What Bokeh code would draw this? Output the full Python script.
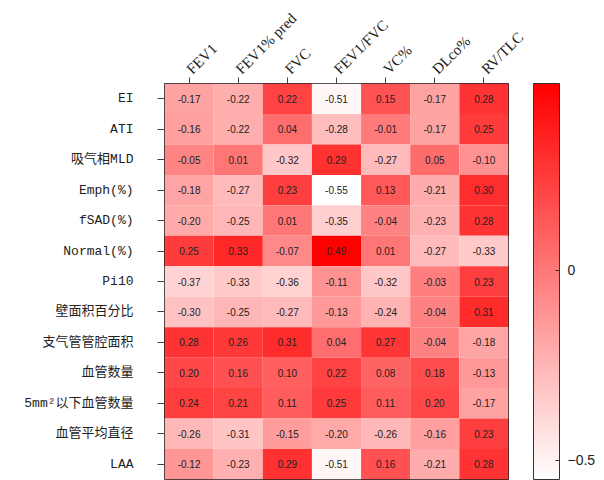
import math
from bokeh.plotting import figure
from bokeh.models import (ColumnDataSource, LinearColorMapper, ColorBar, FixedTicker,
                          FactorRange)
from bokeh.transform import transform
from bokeh.embed import file_html
from bokeh.resources import INLINE

columns = ["FEV1", "FEV1% pred", "FVC", "FEV1/FVC", "VC%", "DLco%", "RV/TLC"]
rows = ["EI", "ATI", "吸气相MLD", "Emph(%)", "fSAD(%)", "Normal(%)", "Pi10",
        "壁面积百分比", "支气管管腔面积", "血管数量", "5mm²以下血管数量", "血管平均直径", "LAA"]

r_EI = [-0.17, -0.22, 0.22, -0.51, 0.15, -0.17, 0.28]
r_ATI = [-0.16, -0.22, 0.04, -0.28, -0.01, -0.17, 0.25]
r_MLD = [-0.05, 0.01, -0.32, 0.29, -0.27, 0.05, -0.10]
r_Emph = [-0.18, -0.27, 0.23, -0.55, 0.13, -0.21, 0.30]
r_fSAD = [-0.20, -0.25, 0.01, -0.35, -0.04, -0.23, 0.28]
r_Normal = [0.25, 0.33, -0.07, 0.49, 0.01, -0.27, -0.33]
r_Pi10 = [-0.37, -0.33, -0.36, -0.11, -0.32, -0.03, 0.23]
r_WA = [-0.30, -0.25, -0.27, -0.13, -0.24, -0.04, 0.31]
r_LA = [0.28, 0.26, 0.31, 0.04, 0.27, -0.04, -0.18]
r_VN = [0.20, 0.16, 0.10, 0.22, 0.08, 0.18, -0.13]
r_VN5 = [0.24, 0.21, 0.11, 0.25, 0.11, 0.20, -0.17]
r_VD = [-0.26, -0.31, -0.15, -0.20, -0.26, -0.16, 0.23]
r_LAA = [-0.12, -0.23, 0.29, -0.51, 0.16, -0.21, 0.28]

matrix = [r_EI, r_ATI, r_MLD, r_Emph, r_fSAD, r_Normal, r_Pi10, r_WA, r_LA,
          r_VN, r_VN5, r_VD, r_LAA]

cb_ticks = [-0.5, 0]
val_low, val_high = -0.55, 0.49

xs, ys, vals, labels = [], [], [], []
for rname, rvals in zip(rows, matrix):
    for cname, v in zip(columns, rvals):
        xs.append(cname)
        ys.append(rname)
        vals.append(v)
        labels.append(f"{v:.2f}")

src = ColumnDataSource(dict(x=xs, y=ys, v=vals, t=labels))

palette = []
n = 256
for i in range(n):
    g = round(255 * (1 - i / (n - 1)))
    palette.append(f"#ff{g:02x}{g:02x}")

mapper = LinearColorMapper(palette=palette, low=val_low, high=val_high)

p = figure(x_range=FactorRange(*columns), y_range=FactorRange(*reversed(rows)),
           width=600, height=480,
           min_border_left=164, min_border_top=83, min_border_bottom=1,
           min_border_right=92,
           x_axis_location="above", output_backend="svg", toolbar_location=None)

p.rect(x="x", y="y", width=1, height=1, source=src,
       fill_color=transform("v", mapper), line_color=None)
p.text(x="x", y="y", text="t", source=src, text_align="center",
       text_baseline="middle", text_font_size="10px", text_color="#222222",
       text_font={"value": "Liberation Sans"})

p.grid.visible = False
p.outline_line_color = "#222222"
p.outline_line_width = 1
p.background_fill_color = "white"

xa = p.xaxis[0]
xa.axis_line_color = None
xa.major_tick_out = 6
xa.major_tick_in = 0
xa.major_tick_line_color = "#444444"
xa.major_label_orientation = math.pi / 4
xa.major_label_text_font = "Liberation Serif"
xa.major_label_text_font_size = "15px"
xa.major_label_text_color = "#222222"
xa.major_label_standoff = 6

ya = p.yaxis[0]
ya.axis_line_color = None
ya.major_tick_out = 7
ya.major_tick_in = 0
ya.major_tick_line_color = "#444444"
ya.major_label_text_font = "Liberation Mono, Noto Sans CJK SC"
ya.major_label_text_font_size = "13px"
ya.major_label_text_color = "#222222"
ya.major_label_standoff = 24

cb = ColorBar(color_mapper=mapper, ticker=FixedTicker(ticks=cb_ticks),
              width=26, height=396, padding=0, margin=0, location=(369, 0),
              bar_line_color="#333333", major_tick_line_color="#333333",
              major_tick_in=4, major_tick_out=0, minor_tick_line_color=None,
              major_label_text_font="Liberation Sans",
              major_label_text_font_size="14px",
              major_label_text_color="#222222", label_standoff=8,
              background_fill_color=None, border_line_color=None)
p.add_layout(cb, "center")

open("out.html", "w").write(file_html(p, INLINE))
